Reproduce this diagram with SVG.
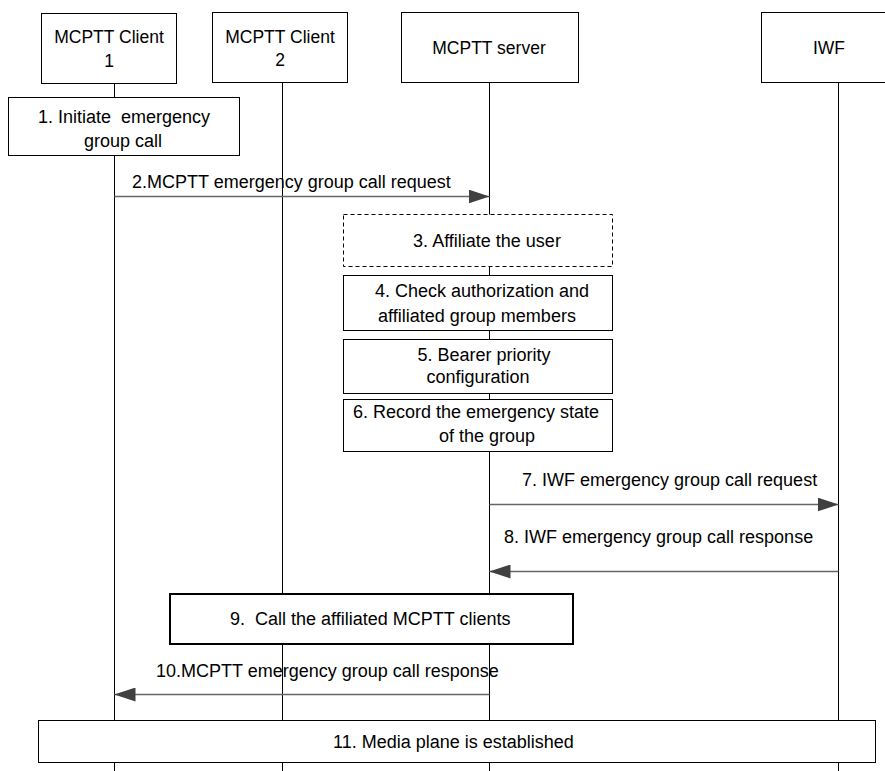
<svg xmlns="http://www.w3.org/2000/svg" width="885" height="771" viewBox="0 0 885 771">
<style>
text{font-family:"Liberation Sans",Arial,sans-serif;font-size:18px;fill:#000;white-space:pre}
.h{font-size:17.5px}
.c{text-anchor:middle}
.box{fill:#fff;stroke:#000;stroke-width:1}
.dash{fill:#fff;stroke:#000;stroke-width:1;stroke-dasharray:4 3}
.thick{fill:#fff;stroke:#000;stroke-width:2}
.life{stroke:#000;stroke-width:1}
.msg{stroke:#666;stroke-width:1.3;fill:none}
</style>
<defs>
<marker id="ah" markerWidth="21" markerHeight="14" refX="21" refY="7" orient="auto" markerUnits="userSpaceOnUse">
<polygon points="0,0 21,7 0,14" fill="#404040"/>
</marker>
</defs>
<rect width="885" height="771" fill="#fff"/>
<g id="lifelines">
<line class="life" x1="114.5" y1="83" x2="114.5" y2="771"/>
<line class="life" x1="282.5" y1="83" x2="282.5" y2="771"/>
<line class="life" x1="489.5" y1="83" x2="489.5" y2="771"/>
<line class="life" x1="838.5" y1="83" x2="838.5" y2="771"/>
</g>
<g id="client1">
<rect class="box" x="41.5" y="13.5" width="135" height="70"/>
<text class="h c" x="109" y="43">MCPTT Client</text>
<text class="h c" x="109" y="67">1</text>
</g>
<g id="client2">
<rect class="box" x="212.5" y="12.5" width="135" height="70"/>
<text class="h c" x="280" y="43">MCPTT Client</text>
<text class="h c" x="280" y="66">2</text>
</g>
<g id="server">
<rect class="box" x="401.5" y="12.5" width="177" height="70"/>
<text class="h c" x="489" y="54">MCPTT server</text>
</g>
<g id="iwf">
<rect class="box" x="761.5" y="12.5" width="140" height="70"/>
<text class="h c" x="829" y="54">IWF</text>
</g>
<g id="step1">
<rect class="box" x="8.5" y="97.5" width="231" height="58"/>
<text class="c" x="124" y="123">1. Initiate  emergency</text>
<text class="c" x="123" y="147">group call</text>
</g>
<g id="step3">
<rect class="dash" x="343.5" y="214.5" width="269" height="52"/>
<text class="c" x="487" y="247">3. Affiliate the user</text>
</g>
<g id="step4">
<rect class="box" x="343.5" y="275.5" width="269" height="55"/>
<text class="c" x="482" y="297">4. Check authorization and</text>
<text class="c" x="477" y="322">affiliated group members</text>
</g>
<g id="step5">
<rect class="box" x="343.5" y="339.5" width="269" height="54"/>
<text class="c" x="484" y="361">5. Bearer priority</text>
<text class="c" x="478" y="383">configuration</text>
</g>
<g id="step6">
<rect class="box" x="343.5" y="399.5" width="269" height="52"/>
<text class="c" x="476" y="418">6. Record the emergency state</text>
<text class="c" x="487" y="442">of the group</text>
</g>
<g id="step9">
<rect class="thick" x="170" y="594" width="403" height="50"/>
<text x="230" y="625">9.  Call the affiliated MCPTT clients</text>
</g>
<g id="step11">
<rect class="box" x="38.5" y="720.5" width="837" height="42"/>
<text x="333" y="748">11. Media plane is established</text>
</g>
<g id="connectors">
<line class="msg" x1="114.5" y1="196.5" x2="489.5" y2="196.5" marker-end="url(#ah)"/>
<text x="132" y="188">2.MCPTT emergency group call request</text>
<line class="msg" x1="489.5" y1="504.5" x2="838.5" y2="504.5" marker-end="url(#ah)"/>
<text x="522" y="486">7. IWF emergency group call request</text>
<line class="msg" x1="838.5" y1="571.5" x2="489.5" y2="571.5" marker-end="url(#ah)"/>
<text x="504" y="543">8. IWF emergency group call response</text>
<line class="msg" x1="489.5" y1="694.5" x2="114.5" y2="694.5" marker-end="url(#ah)"/>
<text x="156" y="677">10.MCPTT emergency group call response</text>
</g>
</svg>
